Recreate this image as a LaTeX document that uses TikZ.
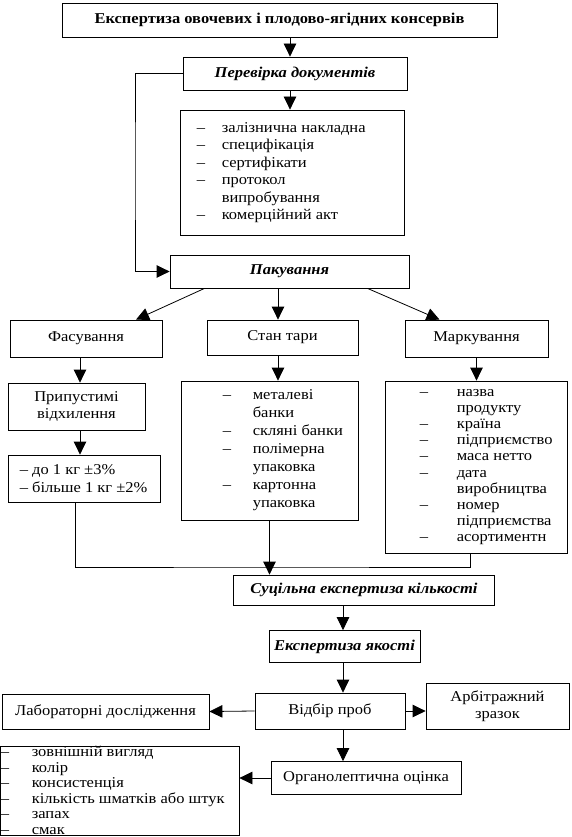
\documentclass[tikz,border=0pt]{standalone}
\usepackage{fontspec}
\setmainfont{Liberation Serif}[FakeStretch=1.1]
\usetikzlibrary{arrows.meta,positioning}

\newcommand{\itm}[2]{\makebox[#1][l]{–}#2}
\newcommand{\cnt}[2]{\hspace*{#1}#2}

\begin{document}
\begin{tikzpicture}[x=1pt,y=-1pt,
    box/.style={draw,line width=0.8pt,inner sep=2pt,align=center,font=\fontsize{15}{17}\selectfont},
    tbox/.style={box,font=\fontsize{15}{17}\selectfont\bfseries},
    hbox/.style={box,font=\fontsize{15}{17}\selectfont\bfseries\itshape},
    ltxt/.style={inner sep=0pt,align=left,font=\fontsize{15}{17.5}\selectfont},
    sz/.style 2 args={minimum width=#1pt,minimum height=#2pt},
    arr/.style={-{Triangle[length=13pt,width=12.5pt]},line width=0.8pt},
    ln/.style={line width=0.8pt}]
  \useasboundingbox (0,0) rectangle (571,837);
  % fixed columns for the arrows
  \coordinate (ca) at (290,0);
  \coordinate (cb) at (278,0);
  \coordinate (cc) at (80,0);
  \coordinate (cq) at (343,0);
  \coordinate (fb) at (135,170);
  \coordinate (jn) at (270,567);

  \node[tbox,sz={435}{34}] (top) at (279.5,20) {Експертиза овочевих і плодово-ягідних консервів};
  \node[hbox,sz={224}{33}] (per) at (295,73.5) {Перевірка документів};
  \node[box,sz={224}{125}] (docs) at (292,172.5) {};
  \node[ltxt,right=17pt of docs.west] (docst) {\itm{25pt}{залізнична накладна}\\
    \itm{25pt}{специфікація}\\ \itm{25pt}{сертифікати}\\ \itm{25pt}{протокол}\\
    \cnt{25pt}{випробування}\\ \itm{25pt}{комерційний акт}};
  \node[hbox,sz={239}{33}] (pak) at (289.5,271.5) {Пакування};

  % three branches
  \node[box,sz={152}{37}] (fas) at (86,338.5) {Фасування};
  \node[box,sz={151}{35}] (stan) at (282.5,337.5) {Стан тари};
  \node[box,sz={143}{37}] (mark) at (476.5,338.5) {Маркування};
  \node[box,sz={137}{47}] (prip) at (76.5,406.5) {Припустимі\\відхилення};
  \node[box,sz={152}{47}] (dev) at (84,478.5) {};
  \node[ltxt,right=12pt of dev.west] (devt) {– до 1 кг ±3\%\\– більше 1 кг ±2\%};
  \node[box,sz={177}{139}] (tara) at (269.5,450.5) {};
  \node[ltxt,right=42pt of tara.west,font=\fontsize{15}{18}\selectfont] (tarat) {\itm{30pt}{металеві}\\
    \cnt{30pt}{банки}\\ \itm{30pt}{скляні банки}\\ \itm{30pt}{полімерна}\\
    \cnt{30pt}{упаковка}\\ \itm{30pt}{картонна}\\ \cnt{30pt}{упаковка}};
  \node[box,sz={182}{172}] (inf) at (476,467) {};
  \node[ltxt,right=35pt of inf.west,font=\fontsize{15}{16.2}\selectfont] (inft) {\itm{37pt}{назва}\\
    \cnt{37pt}{продукту}\\ \itm{37pt}{країна}\\ \itm{37pt}{підприємство}\\
    \itm{37pt}{маса нетто}\\ \itm{37pt}{дата}\\ \cnt{37pt}{виробництва}\\
    \itm{37pt}{номер}\\ \cnt{37pt}{підприємства}\\ \itm{37pt}{асортиментн}};

  % quantity and quality
  \node[hbox,sz={261}{30}] (suc) at (364,590) {Суцільна експертиза кількості};
  \node[hbox,sz={151}{32}] (jak) at (344.5,646.5) {Експертиза якості};
  \node[box,sz={150}{36}] (vid) at (330,711) {Відбір проб};
  \node[box,sz={207}{35}] (lab) at (105.5,711.5) {Лабораторні дослідження};
  \node[box,sz={143}{46}] (arb) at (497.5,706) {Арбітражний\\зразок};
  \node[box,sz={190}{33}] (org) at (366,778) {Органолептична оцінка};
  \node[box,sz={239}{89}] (orgl) at (119.5,790.5) {};
  \node[ltxt,right=1pt of orgl.west,font=\fontsize{15}{15.5}\selectfont] (orglt) {\itm{31pt}{зовнішній вигляд}\\
    \itm{31pt}{колір}\\ \itm{31pt}{консистенція}\\ \itm{31pt}{кількість шматків або штук}\\
    \itm{31pt}{запах}\\ \itm{31pt}{смак}};

  \draw[arr] (top.south -| ca) -- (per.north -| ca);
  \draw[arr] (per.south -| ca) -- (docs.north -| ca);
  \draw[arr] (per.west) -| (fb) |- (pak.west);
  \draw[arr] ([xshift=-85pt]pak.south) -- ([xshift=50pt]fas.north);
  \draw[arr] (pak.south -| cb) -- (stan.north -| cb);
  \draw[arr] ([xshift=78pt]pak.south) -- ([xshift=-37pt]mark.north);
  \draw[arr] (fas.south -| cc) -- (prip.north -| cc);
  \draw[arr] (prip.south -| cc) -- (dev.north -| cc);
  \draw[arr] (stan.south -| cb) -- (tara.north -| cb);
  \draw[arr] (mark.south) -- (mark.south |- inf.north);
  \draw[ln] ([xshift=-9pt]dev.south) |- (jn) -| ([xshift=-6pt]inf.south);
  \draw[arr] (tara.south) -- (tara.south |- suc.north);
  \draw[arr] (suc.south -| cq) -- (jak.north -| cq);
  \draw[arr] (jak.south -| cq) -- (vid.north -| cq);
  \draw[arr] (vid.west) -- (lab.east);
  \draw[arr] (vid.east) -- (vid.east -| arb.west);
  \draw[arr] (vid.south -| cq) -- (org.north -| cq);
  \draw[arr] (org.west) -- (org.west -| orgl.east);
\end{tikzpicture}
\end{document}
